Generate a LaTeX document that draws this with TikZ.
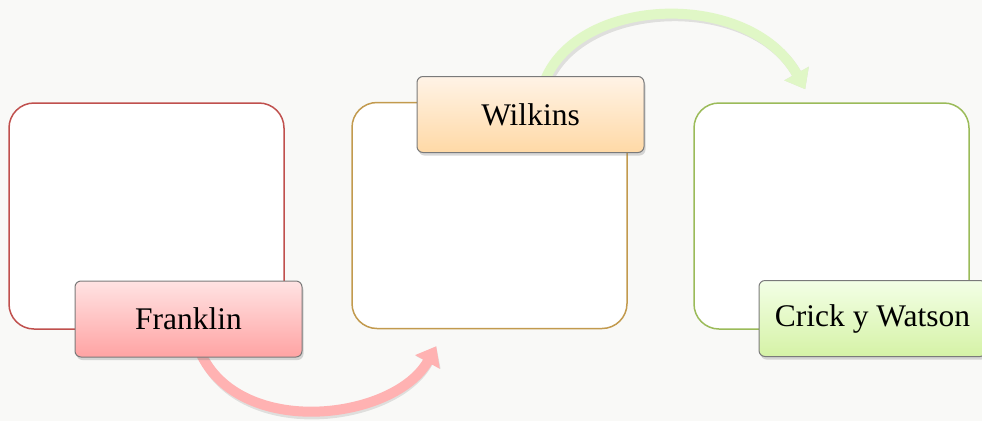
\documentclass[tikz,border=0pt]{standalone}
\usepackage{fontspec}
\setmainfont{Liberation Serif}
\usetikzlibrary{arrows.meta,shadows,calc}

\definecolor{bgcol}{HTML}{F9F9F7}
\definecolor{redline}{HTML}{C0504D}
\definecolor{goldline}{HTML}{C29A4E}
\definecolor{greenline}{HTML}{9BBB59}
\definecolor{pinktop}{HTML}{FFE3E3}
\definecolor{pinkbot}{HTML}{FFA3A3}
\definecolor{peachtop}{HTML}{FFF3E6}
\definecolor{peachbot}{HTML}{FFD9A6}
\definecolor{limetop}{HTML}{F3FFE6}
\definecolor{limebot}{HTML}{D5F2A6}
\definecolor{pinkarrow}{HTML}{FFB2B2}
\definecolor{limearrow}{HTML}{E0F7C6}

\tikzset{
  panel/.style={draw=#1, line width=1.5pt, fill=white, rounded corners=25pt,
    minimum width=275pt, minimum height=226pt, inner sep=0pt},
  tag/.style 2 args={draw=black!52, line width=1pt, rounded corners=6pt,
    top color=#1, bottom color=#2, minimum width=227pt, minimum height=76pt,
    inner sep=0pt, font=\fontsize{31.5}{36}\selectfont,
    drop shadow={opacity=0.3, shadow xshift=1.5pt, shadow yshift=-3pt}},
  flow/.style={line width=10pt, draw=#1,
    -{Triangle[length=18pt, width=27pt]}},
  flowshade/.style={line width=10pt, draw=black, opacity=0.1,
    -{Triangle[length=18pt, width=27pt]}}
}

\begin{document}
\begin{tikzpicture}[x=1pt, y=-1pt]
  % background
  \fill[bgcol] (0,0) rectangle (982,421);
  \useasboundingbox (0,0) rectangle (982,421);

  % the three panels
  \node[panel=redline]   (box1) at (146.5,216) {};
  \node[panel=goldline]  (box2) at (489.5,215.5) {};
  \node[panel=greenline] (box3) at (831.5,216) {};

  % free ends of the two connectors
  \coordinate (t1) at ($(box2.south west)+(85,17)$);
  \coordinate (t2) at ($(box3.north west)+(112,-13)$);

  % connector shadows
  \begin{scope}[shift={(2,3)}]
    \draw[flowshade] (200,352) .. controls (240,440) and (395,420) .. (t1);
    \draw[flowshade] (545,80) .. controls (580,-5) and (750,-10) .. (t2);
  \end{scope}

  % curved connectors
  \draw[flow=pinkarrow] (200,352) .. controls (240,440) and (395,420) .. (t1);
  \draw[flow=limearrow] (545,80) .. controls (580,-5) and (750,-10) .. (t2);

  % name tags
  \node[tag={pinktop}{pinkbot}]  (franklin) at (188.5,319)   {Franklin};
  \node[tag={peachtop}{peachbot}] (wilkins) at (530.5,114.5) {Wilkins};
  \node[tag={limetop}{limebot}]  (crick)    at (872.5,318.5) {Crick y Watson};
\end{tikzpicture}
\end{document}
